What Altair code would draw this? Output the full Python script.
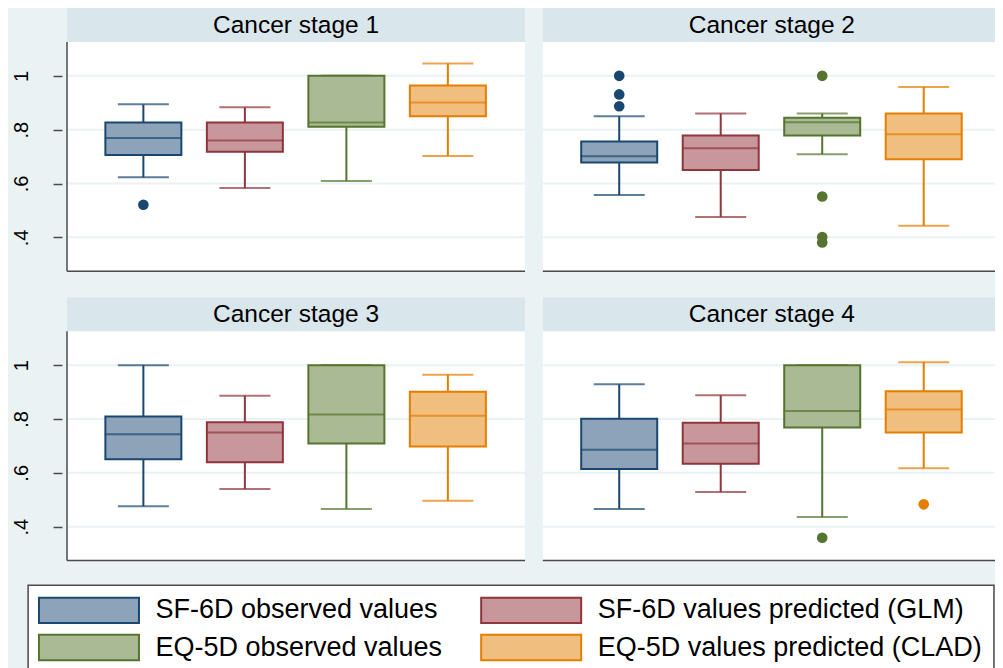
import altair as alt
import pandas as pd

FONT = "Liberation Sans"
BG = "#EAF2F3"
HEADER = "#D9E6EB"
GRID = "#EAF2F3"
AXIS = "#4a4a4a"

STAGES = ["Cancer stage 1", "Cancer stage 2", "Cancer stage 3", "Cancer stage 4"]
GROUPS = ["SF-6D observed values", "SF-6D values predicted (GLM)",
          "EQ-5D observed values", "EQ-5D values predicted (CLAD)"]
FILLS = ["#8DA3B9", "#C8979B", "#AABA95", "#F0BE7E"]
LINES = ["#1A476F", "#90353B", "#55752F", "#E37E00"]

# box statistics per stage (rows) and group (columns, GROUPS order)
LOWER = [[0.623, 0.583, 0.609, 0.702],
         [0.557, 0.476, 0.709, 0.443],
         [0.476, 0.540, 0.466, 0.496],
         [0.466, 0.529, 0.436, 0.617]]
Q1 = [[0.706, 0.718, 0.811, 0.850],
      [0.678, 0.650, 0.778, 0.690],
      [0.650, 0.639, 0.709, 0.698],
      [0.614, 0.634, 0.768, 0.750]]
MEDIAN = [[0.769, 0.760, 0.827, 0.901],
          [0.701, 0.731, 0.828, 0.783],
          [0.743, 0.750, 0.817, 0.812],
          [0.686, 0.709, 0.830, 0.835]]
Q3 = [[0.827, 0.827, 1.000, 0.964],
      [0.756, 0.778, 0.844, 0.860],
      [0.809, 0.788, 1.000, 0.901],
      [0.801, 0.786, 1.000, 0.903]]
UPPER = [[0.894, 0.883, 1.000, 1.046],
         [0.850, 0.860, 0.860, 0.959],
         [1.000, 0.886, 1.000, 0.964],
         [0.929, 0.888, 1.000, 1.011]]

OUT_STAGE = [1, 2, 2, 2, 2, 2, 2, 2, 4, 4]
OUT_GROUP = [0, 0, 0, 0, 2, 2, 2, 2, 2, 3]
OUT_VALUE = [0.521, 1.000, 0.931, 0.887, 1.000, 0.552, 0.401, 0.381, 0.359, 0.483]

Y_TICKS = [0.4, 0.6, 0.8, 1.0]

# ---- layout (one shared coordinate frame: 2x2 panels + legend) ----
W, H = 933, 662                 # view size in px
PX_SLOT = 102.6                 # px per box slot
PX_UNIT = 269.2                 # px per value unit
X0 = 0.2476                     # slot value at a panel's left edge
PANEL_W = 463 / PX_SLOT
COL_SHIFT = 481 / PX_SLOT
Y_TOP = 1.252                   # value at top of header strip
PLOT_TOP = 1.126
PLOT_BOTTOM = 0.274
ROW_SHIFT = 289.3 / PX_UNIT


def sx(px):
    return X0 + px / PX_SLOT


def sy(px):
    return Y_TOP - px / PX_UNIT


X_DOM = [X0, sx(W)]
Y_DOM = [sy(H), Y_TOP]

boxes, panels, grids = [], [], []
for s in range(4):
    col, row = s % 2, s // 2
    dy = row * ROW_SHIFT
    left = X0 + col * COL_SHIFT
    panels.append({"label": STAGES[s], "left": left, "right": left + PANEL_W,
                   "bottom": PLOT_BOTTOM - dy, "ptop": PLOT_TOP - dy,
                   "htop": Y_TOP - dy, "hmid": (PLOT_TOP + Y_TOP) / 2 - dy - 0.004,
                   "mid": left + PANEL_W / 2, "col": col})
    for v in Y_TICKS:
        grids.append({"left": left, "right": left + PANEL_W, "y": v - dy})
    for g in range(4):
        boxes.append({"group": GROUPS[g], "x": g + 1 + col * COL_SHIFT,
                      "lo": LOWER[s][g] - dy, "q1": Q1[s][g] - dy,
                      "med": MEDIAN[s][g] - dy, "q3": Q3[s][g] - dy,
                      "hi": UPPER[s][g] - dy})
box_df = pd.DataFrame(boxes)
panel_df = pd.DataFrame(panels)
grid_df = pd.DataFrame(grids)
out_df = pd.DataFrame({
    "group": [GROUPS[g] for g in OUT_GROUP],
    "x": [g + 1 + ((s - 1) % 2) * COL_SHIFT for s, g in zip(OUT_STAGE, OUT_GROUP)],
    "y": [v - ((s - 1) // 2) * ROW_SHIFT for s, v in zip(OUT_STAGE, OUT_VALUE)]})

all_ticks = Y_TICKS + [v - ROW_SHIFT for v in Y_TICKS]

xsc = alt.Scale(domain=X_DOM, nice=False, zero=False)
ysc = alt.Scale(domain=Y_DOM, nice=False, zero=False)
yaxis = alt.Axis(values=all_ticks, grid=False, domain=False, ticks=True, tickSize=9,
                 tickColor=AXIS, tickWidth=1.5, labelAngle=270, labelAlign="center",
                 labelBaseline="bottom", labelPadding=22, labelFontSize=20,
                 labelFont=FONT, labelColor="black", title=None,
                 labelExpr=("datum.value == 1 || abs(datum.value + %f - 1) < 0.001 ? '1' : "
                            "replace(format(datum.value < 0.3 ? datum.value + %f : datum.value, '.1f'), '0.', '.')")
                 % (ROW_SHIFT, ROW_SHIFT))


def X(f):
    return alt.X(f, type="quantitative", scale=xsc, axis=None)


def Y(f):
    return alt.Y(f, type="quantitative", scale=ysc, axis=yaxis)


line_scale = alt.Scale(domain=GROUPS, range=LINES)
fill_scale = alt.Scale(domain=GROUPS, range=FILLS)
col_line = alt.Color("group:N", scale=line_scale, legend=None)

pbg = alt.Chart(panel_df).mark_rect(color="white").encode(
    x=X("left"), x2="right", y=Y("bottom"), y2="htop")
hband = alt.Chart(panel_df).mark_rect(color=HEADER).encode(
    x=X("left"), x2="right", y=Y("ptop"), y2="htop")
grid = alt.Chart(grid_df).mark_rule(color=GRID, strokeWidth=2).encode(
    x=X("left"), x2="right", y=Y("y"))
bottom_ax = alt.Chart(panel_df).mark_rule(color=AXIS, strokeWidth=1.5).encode(
    x=X("left"), x2="right", y=Y("bottom"))
left_ax = alt.Chart(panel_df).transform_filter("datum.col == 0").mark_rule(
    color=AXIS, strokeWidth=1.5).encode(x=X("left"), y=Y("bottom"), y2="ptop")

base = alt.Chart(box_df)
wlo = base.mark_rule(strokeWidth=2).encode(x=X("x"), y=Y("lo"), y2="q1", color=col_line)
whi = base.mark_rule(strokeWidth=2).encode(x=X("x"), y=Y("q3"), y2="hi", color=col_line)
cap_lo = base.mark_tick(orient="horizontal", size=51, thickness=2).encode(
    x=X("x"), y=Y("lo"), color=col_line)
cap_hi = base.mark_tick(orient="horizontal", size=51, thickness=2).encode(
    x=X("x"), y=Y("hi"), color=col_line)
box = base.mark_bar(size=76, strokeWidth=2).encode(
    x=X("x"), y=Y("q1"), y2="q3",
    fill=alt.Fill("group:N", scale=fill_scale, legend=None),
    stroke=alt.Stroke("group:N", scale=line_scale, legend=None))
med = base.mark_tick(orient="horizontal", size=77, thickness=2).encode(
    x=X("x"), y=Y("med"), color=col_line)
pts = alt.Chart(out_df).mark_circle(size=113, opacity=1).encode(
    x=X("x"), y=Y("y"), color=col_line)
htxt = alt.Chart(panel_df).mark_text(font=FONT, fontSize=24.5, color="black",
                                     baseline="middle", align="center").encode(
    x=X("mid"), y=Y("hmid"), text="label:N")

# legend
LEG_COL = [0, 1, 0, 1]
LEG_ROW = [0, 0, 1, 1]
leg_box_df = pd.DataFrame({"l": [sx(-39.3)], "r": [sx(W + 4)],
                           "t": [sy(577.3)], "b": [sy(H + 4)]})
leg_df = pd.DataFrame({"group": GROUPS,
                       "x": [sx(22.2 + 447 * c) for c in LEG_COL],
                       "y": [sy(602.3 + 37.2 * r) for r in LEG_ROW]})
lbox = alt.Chart(leg_box_df).mark_rect(fill="white", stroke=AXIS, strokeWidth=1.5).encode(
    x=X("l"), x2="r", y=Y("t"), y2="b")
lsym = alt.Chart(leg_df).mark_point(shape="M-1,-0.253H1V0.253H-1Z", size=10000,
                                    filled=True, strokeWidth=2, opacity=1).encode(
    x=X("x"), y=Y("y"),
    fill=alt.Fill("group:N", scale=fill_scale, legend=None),
    stroke=alt.Stroke("group:N", scale=line_scale, legend=None))
ltxt = alt.Chart(leg_df).mark_text(font=FONT, fontSize=27, color="black", align="left",
                                   baseline="middle", dx=66.5).encode(
    x=X("x"), y=Y("y"), text="group:N")

chart = alt.layer(pbg, hband, grid, bottom_ax, left_ax, wlo, whi, cap_lo, cap_hi,
                  box, med, pts, htxt, lbox, lsym, ltxt).properties(
    width=W, height=H, background=BG,
    autosize=alt.AutoSizeParams(type="none"),
    padding={"left": 54, "top": 0, "right": 0, "bottom": 0}
).configure_view(strokeWidth=0)

chart.save("out.html", embed_options={"renderer": "svg", "actions": False})
